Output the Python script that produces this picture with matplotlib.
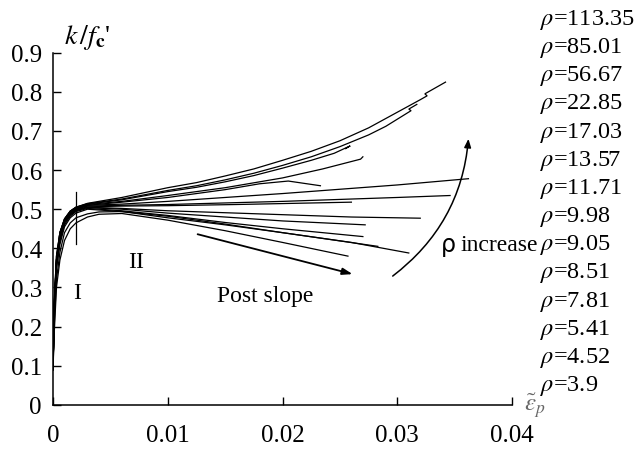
import matplotlib
matplotlib.use("Agg")
import matplotlib.pyplot as plt
from matplotlib.patches import FancyArrowPatch

plt.rcParams["font.family"] = ["Liberation Serif", "DejaVu Serif"]
plt.rcParams["mathtext.fontset"] = "stix"

# reinforcement ratio of each specimen, listed top to bottom
rho_labels = ["113.35", "85.01", "56.67", "22.85", "17.03", "13.57", "11.71",
              "9.98", "9.05", "8.51", "7.81", "5.41", "4.52", "3.9"]

# plastic strain vs normalised hardening k/f_c' for each specimen
strain = [
    [0, 0.0001, 0.0003, 0.0006, 0.001, 0.0015, 0.002, 0.003, 0.006, 0.01, 0.0125, 0.015, 0.0175, 0.02, 0.0225, 0.025, 0.0275, 0.029, 0.032, 0.0326, 0.0324, 0.0342],
    [0, 0.0001, 0.0003, 0.0006, 0.001, 0.0015, 0.002, 0.003, 0.006, 0.01, 0.0125, 0.015, 0.0175, 0.02, 0.0225, 0.025, 0.0275, 0.029, 0.0312, 0.031, 0.0317],
    [0, 0.0001, 0.0003, 0.0006, 0.001, 0.0015, 0.002, 0.003, 0.006, 0.01, 0.0125, 0.015, 0.0175, 0.02, 0.0225, 0.0245, 0.0259, 0.0255],
    [0, 0.0001, 0.0003, 0.0006, 0.001, 0.0015, 0.002, 0.003, 0.006, 0.01, 0.015, 0.02, 0.0235, 0.0268, 0.027],
    [0, 0.0001, 0.0003, 0.0006, 0.001, 0.0015, 0.002, 0.003, 0.006, 0.01, 0.015, 0.018, 0.0205, 0.0233],
    [0, 0.0001, 0.0003, 0.0006, 0.001, 0.0015, 0.002, 0.003, 0.006, 0.01, 0.02, 0.03, 0.0362],
    [0, 0.0001, 0.0003, 0.0006, 0.001, 0.0015, 0.002, 0.003, 0.006, 0.01, 0.02, 0.03, 0.0346],
    [0, 0.0001, 0.0003, 0.0006, 0.001, 0.0015, 0.002, 0.003, 0.006, 0.01, 0.016, 0.021, 0.026],
    [0, 0.0001, 0.0003, 0.0006, 0.001, 0.0015, 0.002, 0.003, 0.006, 0.01, 0.02, 0.026, 0.032],
    [0, 0.0001, 0.0003, 0.0006, 0.001, 0.0015, 0.002, 0.003, 0.006, 0.01, 0.015, 0.02, 0.0272],
    [0, 0.0001, 0.0003, 0.0006, 0.001, 0.0015, 0.002, 0.003, 0.006, 0.01, 0.015, 0.02, 0.027],
    [0, 0.0001, 0.0003, 0.0006, 0.001, 0.0015, 0.002, 0.003, 0.006, 0.01, 0.015, 0.02, 0.0283],
    [0, 0.0001, 0.0003, 0.0006, 0.001, 0.0015, 0.002, 0.003, 0.004, 0.006, 0.01, 0.015, 0.02, 0.026, 0.031],
    [0, 0.0001, 0.0003, 0.0006, 0.001, 0.0015, 0.002, 0.003, 0.004, 0.006, 0.01, 0.015, 0.02, 0.0257],
]
hardening = [
    [0.09, 0.26, 0.38, 0.44, 0.475, 0.495, 0.505, 0.515, 0.53, 0.555, 0.568, 0.585, 0.603, 0.625, 0.648, 0.675, 0.708, 0.732, 0.78, 0.79, 0.795, 0.825],
    [0.09, 0.26, 0.38, 0.44, 0.475, 0.495, 0.505, 0.514, 0.526, 0.548, 0.56, 0.575, 0.592, 0.612, 0.634, 0.66, 0.69, 0.712, 0.752, 0.756, 0.768],
    [0.09, 0.25, 0.37, 0.44, 0.475, 0.495, 0.505, 0.513, 0.524, 0.545, 0.556, 0.57, 0.586, 0.605, 0.625, 0.643, 0.662, 0.655],
    [0.09, 0.25, 0.37, 0.44, 0.472, 0.493, 0.503, 0.512, 0.52, 0.535, 0.555, 0.58, 0.603, 0.628, 0.634],
    [0.09, 0.25, 0.37, 0.43, 0.47, 0.49, 0.502, 0.51, 0.518, 0.53, 0.55, 0.565, 0.572, 0.56],
    [0.09, 0.25, 0.37, 0.43, 0.47, 0.49, 0.5, 0.51, 0.513, 0.52, 0.54, 0.562, 0.578],
    [0.09, 0.24, 0.36, 0.43, 0.47, 0.49, 0.5, 0.508, 0.51, 0.512, 0.52, 0.53, 0.535],
    [0.09, 0.24, 0.36, 0.43, 0.468, 0.488, 0.498, 0.506, 0.508, 0.509, 0.512, 0.515, 0.518],
    [0.09, 0.24, 0.36, 0.42, 0.465, 0.486, 0.497, 0.505, 0.502, 0.496, 0.486, 0.48, 0.477],
    [0.09, 0.24, 0.36, 0.42, 0.465, 0.485, 0.496, 0.504, 0.5, 0.49, 0.48, 0.47, 0.46],
    [0.09, 0.23, 0.35, 0.42, 0.46, 0.482, 0.494, 0.502, 0.496, 0.484, 0.466, 0.45, 0.43],
    [0.09, 0.23, 0.35, 0.41, 0.455, 0.478, 0.49, 0.5, 0.494, 0.478, 0.46, 0.44, 0.405],
    [0.09, 0.2, 0.32, 0.39, 0.44, 0.465, 0.478, 0.488, 0.493, 0.494, 0.482, 0.462, 0.44, 0.415, 0.388],
    [0.09, 0.18, 0.3, 0.37, 0.42, 0.45, 0.465, 0.48, 0.487, 0.489, 0.472, 0.445, 0.415, 0.38],
]

x_ticks = [0, 0.01, 0.02, 0.03, 0.04]
x_tick_labels = ["0", "0.01", "0.02", "0.03", "0.04"]
y_ticks = [0, 0.1, 0.2, 0.3, 0.4, 0.5, 0.6, 0.7, 0.8, 0.9]
y_tick_labels = ["0", "0.1", "0.2", "0.3", "0.4", "0.5", "0.6", "0.7", "0.8", "0.9"]

fig = plt.figure(figsize=(6.42, 4.52), dpi=100)
ax = fig.add_axes([0.0826, 0.1024, 0.715, 0.7786])

for xs, ys in zip(strain, hardening):
    ax.plot(xs, ys, color="black", linewidth=0.9, solid_joinstyle="miter")

ax.set_xlim(0, 0.04)
ax.set_ylim(0, 0.9)
ax.set_xticks(x_ticks)
ax.set_xticklabels(x_tick_labels)
ax.set_yticks(y_ticks)
ax.set_yticklabels(y_tick_labels)
ax.tick_params(axis="both", direction="in", length=6, width=1, labelsize=18)
ax.tick_params(axis="x", pad=14)
ax.tick_params(axis="y", pad=8)
for side in ("top", "right"):
    ax.spines[side].set_visible(False)
for side in ("left", "bottom"):
    ax.spines[side].set_linewidth(1.1)

# boundary between stage I and stage II
ax.plot([0.002, 0.002], [0.41, 0.545], color="black", linewidth=0.9)
ax.text(0.0021, 0.288, "I", fontsize=17, ha="center", va="center")
ax.text(0.0072, 0.367, "II", fontsize=17, ha="center", va="center")

ax.annotate("", xy=(0.0261, 0.334), xytext=(0.0126, 0.436),
            arrowprops=dict(arrowstyle="-|>,head_length=0.6,head_width=0.2",
                            color="black", lw=1.3, shrinkA=0, shrinkB=0))
ax.text(0.0185, 0.28, "Post slope", fontsize=17, ha="center", va="center")

arc = FancyArrowPatch((0.0296, 0.329), (0.0362, 0.68),
                      connectionstyle="arc3,rad=0.22",
                      arrowstyle="-|>,head_length=5,head_width=2",
                      color="black", lw=1.1, shrinkA=0, shrinkB=0)
ax.add_patch(arc)
ax.text(0.0338, 0.41, "ρ", fontsize=17, ha="left", va="center",
        family=["DejaVu Sans"])
ax.text(0.0355, 0.41, "increase", fontsize=17, ha="left", va="center")

ax.text(0.074, 1.045, r"$k\,/f_{\mathbf{c}}$'", transform=ax.transAxes,
        fontsize=20, ha="center", va="center")
ax.text(1.05, 0.0, r"$\tilde{\varepsilon}_p$", transform=ax.transAxes,
        fontsize=18, ha="center", va="center", color="#666666")

for i, lab in enumerate(rho_labels):
    fig.text(0.841, 1 - (20 + 28.15 * i) / 452, r"$\rho$=" + lab,
             fontsize=17.5, ha="left", va="center")

fig.savefig("out.png", dpi=100)
